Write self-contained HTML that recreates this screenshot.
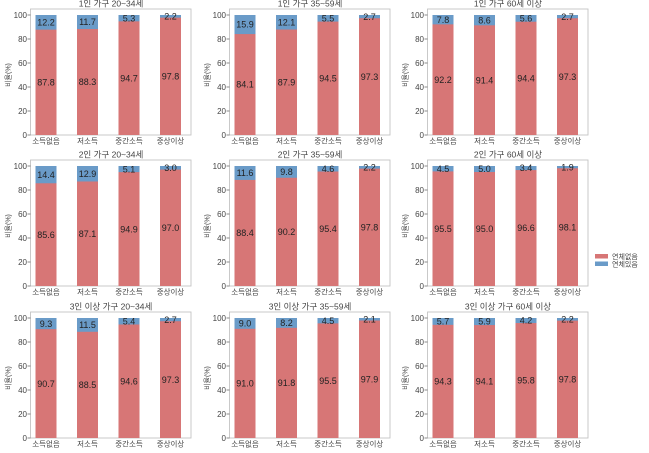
<!DOCTYPE html>
<html><head><meta charset="utf-8"><style>
html,body{margin:0;padding:0;background:#fff;}
svg{display:block;}
text{font-family:"Liberation Sans","Noto Sans CJK KR",sans-serif;fill:#333;}
.v{font-size:9px;text-anchor:middle;fill:#222;}
.yt{font-size:8px;text-anchor:end;fill:#444;}
.xt{font-size:7.5px;text-anchor:middle;fill:#444;}
.ti{font-size:8.5px;text-anchor:middle;fill:#444;}
.yl{font-size:7px;text-anchor:middle;fill:#444;}
.lg{font-size:7px;fill:#444;}
.r{fill:#d77676;}
.b{fill:#6a9bc8;}
.fr{fill:none;stroke:#c4c4c4;stroke-width:0.9;}
.tk{stroke:#666;stroke-width:0.7;}
</style></head><body>
<svg width="649" height="453" viewBox="0 0 649 453" xmlns="http://www.w3.org/2000/svg">
<defs>
<g id="ax">
<rect class="fr" x="3.5" y="-126" width="160.5" height="126"/>
<path class="tk" d="M0.5 0H3.5M0.5 -24H3.5M0.5 -48H3.5M0.5 -72H3.5M0.5 -96H3.5M0.5 -120H3.5"/>
<text class="yt" x="0" y="2.9">0</text>
<text class="yt" x="0" y="-21.1">20</text>
<text class="yt" x="0" y="-45.1">40</text>
<text class="yt" x="0" y="-69.1">60</text>
<text class="yt" x="0" y="-93.1">80</text>
<text class="yt" x="0" y="-117.1">100</text>
<text class="xt" x="19" y="8.5">소득없음</text>
<text class="xt" x="60.5" y="8.5">저소득</text>
<text class="xt" x="102" y="8.5">중간소득</text>
<text class="xt" x="143.5" y="8.5">중상이상</text>
<text class="yl" transform="translate(-16.5,-60) rotate(-90)">비율(%)</text>
<rect class="b" x="8.5" y="-120" width="21" height="120"/>
<rect class="b" x="50" y="-120" width="21" height="120"/>
<rect class="b" x="91.5" y="-120" width="21" height="120"/>
<rect class="b" x="133" y="-120" width="21" height="120"/>
</g>
</defs>

<!-- Row 1 -->
<g transform="translate(27,135)">
<use href="#ax"/>
<rect class="r" x="8.5" y="-105.36" width="21" height="105.36"/>
<rect class="r" x="50" y="-105.96" width="21" height="105.96"/>
<rect class="r" x="91.5" y="-113.64" width="21" height="113.64"/>
<rect class="r" x="133" y="-117.36" width="21" height="117.36"/>
<text class="v" x="19" y="-49.5">87.8</text>
<text class="v" x="60.5" y="-49.8">88.3</text>
<text class="v" x="102" y="-53.6">94.7</text>
<text class="v" x="143.5" y="-55.5">97.8</text>
<text class="v" x="19" y="-109.5">12.2</text>
<text class="v" x="60.5" y="-109.8">11.7</text>
<text class="v" x="102" y="-113.6">5.3</text>
<text class="v" x="143.5" y="-115.5">2.2</text>
<text class="ti" x="84" y="-128.5">1인 가구 20~34세</text>
</g>
<g transform="translate(226,135)">
<use href="#ax"/>
<rect class="r" x="8.5" y="-100.92" width="21" height="100.92"/>
<rect class="r" x="50" y="-105.48" width="21" height="105.48"/>
<rect class="r" x="91.5" y="-113.4" width="21" height="113.4"/>
<rect class="r" x="133" y="-116.76" width="21" height="116.76"/>
<text class="v" x="19" y="-47.3">84.1</text>
<text class="v" x="60.5" y="-49.5">87.9</text>
<text class="v" x="102" y="-53.5">94.5</text>
<text class="v" x="143.5" y="-55.2">97.3</text>
<text class="v" x="19" y="-107.3">15.9</text>
<text class="v" x="60.5" y="-109.5">12.1</text>
<text class="v" x="102" y="-113.5">5.5</text>
<text class="v" x="143.5" y="-115.2">2.7</text>
<text class="ti" x="84" y="-128.5">1인 가구 35~59세</text>
</g>
<g transform="translate(424,135)">
<use href="#ax"/>
<rect class="r" x="8.5" y="-110.64" width="21" height="110.64"/>
<rect class="r" x="50" y="-109.68" width="21" height="109.68"/>
<rect class="r" x="91.5" y="-113.28" width="21" height="113.28"/>
<rect class="r" x="133" y="-116.76" width="21" height="116.76"/>
<text class="v" x="19" y="-52.1">92.2</text>
<text class="v" x="60.5" y="-51.6">91.4</text>
<text class="v" x="102" y="-53.4">94.4</text>
<text class="v" x="143.5" y="-55.2">97.3</text>
<text class="v" x="19" y="-112.1">7.8</text>
<text class="v" x="60.5" y="-111.6">8.6</text>
<text class="v" x="102" y="-113.4">5.6</text>
<text class="v" x="143.5" y="-115.2">2.7</text>
<text class="ti" x="84" y="-128.5">1인 가구 60세 이상</text>
</g>

<!-- Row 2 -->
<g transform="translate(27,286)">
<use href="#ax"/>
<rect class="r" x="8.5" y="-102.72" width="21" height="102.72"/>
<rect class="r" x="50" y="-104.52" width="21" height="104.52"/>
<rect class="r" x="91.5" y="-113.88" width="21" height="113.88"/>
<rect class="r" x="133" y="-116.4" width="21" height="116.4"/>
<text class="v" x="19" y="-48.2">85.6</text>
<text class="v" x="60.5" y="-49.1">87.1</text>
<text class="v" x="102" y="-53.7">94.9</text>
<text class="v" x="143.5" y="-55">97.0</text>
<text class="v" x="19" y="-108.2">14.4</text>
<text class="v" x="60.5" y="-109.1">12.9</text>
<text class="v" x="102" y="-113.7">5.1</text>
<text class="v" x="143.5" y="-115">3.0</text>
<text class="ti" x="84" y="-128.5">2인 가구 20~34세</text>
</g>
<g transform="translate(226,286)">
<use href="#ax"/>
<rect class="r" x="8.5" y="-106.08" width="21" height="106.08"/>
<rect class="r" x="50" y="-108.24" width="21" height="108.24"/>
<rect class="r" x="91.5" y="-114.48" width="21" height="114.48"/>
<rect class="r" x="133" y="-117.36" width="21" height="117.36"/>
<text class="v" x="19" y="-49.8">88.4</text>
<text class="v" x="60.5" y="-50.9">90.2</text>
<text class="v" x="102" y="-54">95.4</text>
<text class="v" x="143.5" y="-55.5">97.8</text>
<text class="v" x="19" y="-109.8">11.6</text>
<text class="v" x="60.5" y="-110.9">9.8</text>
<text class="v" x="102" y="-114">4.6</text>
<text class="v" x="143.5" y="-115.5">2.2</text>
<text class="ti" x="84" y="-128.5">2인 가구 35~59세</text>
</g>
<g transform="translate(424,286)">
<use href="#ax"/>
<rect class="r" x="8.5" y="-114.6" width="21" height="114.6"/>
<rect class="r" x="50" y="-114" width="21" height="114"/>
<rect class="r" x="91.5" y="-115.92" width="21" height="115.92"/>
<rect class="r" x="133" y="-117.72" width="21" height="117.72"/>
<text class="v" x="19" y="-54.1">95.5</text>
<text class="v" x="60.5" y="-53.8">95.0</text>
<text class="v" x="102" y="-54.8">96.6</text>
<text class="v" x="143.5" y="-55.7">98.1</text>
<text class="v" x="19" y="-114.1">4.5</text>
<text class="v" x="60.5" y="-113.8">5.0</text>
<text class="v" x="102" y="-114.8">3.4</text>
<text class="v" x="143.5" y="-115.7">1.9</text>
<text class="ti" x="84" y="-128.5">2인 가구 60세 이상</text>
</g>

<!-- Row 3 -->
<g transform="translate(27,438)">
<use href="#ax"/>
<rect class="r" x="8.5" y="-108.84" width="21" height="108.84"/>
<rect class="r" x="50" y="-106.2" width="21" height="106.2"/>
<rect class="r" x="91.5" y="-113.52" width="21" height="113.52"/>
<rect class="r" x="133" y="-116.76" width="21" height="116.76"/>
<text class="v" x="19" y="-51.2">90.7</text>
<text class="v" x="60.5" y="-49.9">88.5</text>
<text class="v" x="102" y="-53.6">94.6</text>
<text class="v" x="143.5" y="-55.2">97.3</text>
<text class="v" x="19" y="-111.2">9.3</text>
<text class="v" x="60.5" y="-109.9">11.5</text>
<text class="v" x="102" y="-113.6">5.4</text>
<text class="v" x="143.5" y="-115.2">2.7</text>
<text class="ti" x="84" y="-128.5">3인 이상 가구 20~34세</text>
</g>
<g transform="translate(226,438)">
<use href="#ax"/>
<rect class="r" x="8.5" y="-109.2" width="21" height="109.2"/>
<rect class="r" x="50" y="-110.16" width="21" height="110.16"/>
<rect class="r" x="91.5" y="-114.6" width="21" height="114.6"/>
<rect class="r" x="133" y="-117.48" width="21" height="117.48"/>
<text class="v" x="19" y="-51.4">91.0</text>
<text class="v" x="60.5" y="-51.9">91.8</text>
<text class="v" x="102" y="-54.1">95.5</text>
<text class="v" x="143.5" y="-55.5">97.9</text>
<text class="v" x="19" y="-111.4">9.0</text>
<text class="v" x="60.5" y="-111.9">8.2</text>
<text class="v" x="102" y="-114.1">4.5</text>
<text class="v" x="143.5" y="-115.5">2.1</text>
<text class="ti" x="84" y="-128.5">3인 이상 가구 35~59세</text>
</g>
<g transform="translate(424,438)">
<use href="#ax"/>
<rect class="r" x="8.5" y="-113.16" width="21" height="113.16"/>
<rect class="r" x="50" y="-112.92" width="21" height="112.92"/>
<rect class="r" x="91.5" y="-114.96" width="21" height="114.96"/>
<rect class="r" x="133" y="-117.36" width="21" height="117.36"/>
<text class="v" x="19" y="-53.4">94.3</text>
<text class="v" x="60.5" y="-53.3">94.1</text>
<text class="v" x="102" y="-54.3">95.8</text>
<text class="v" x="143.5" y="-55.5">97.8</text>
<text class="v" x="19" y="-113.4">5.7</text>
<text class="v" x="60.5" y="-113.3">5.9</text>
<text class="v" x="102" y="-114.3">4.2</text>
<text class="v" x="143.5" y="-115.5">2.2</text>
<text class="ti" x="84" y="-128.5">3인 이상 가구 60세 이상</text>
</g>

<!-- Legend -->
<rect class="r" x="595" y="254" width="13" height="4.5"/>
<text class="lg" x="612" y="259">연체없음</text>
<rect class="b" x="595" y="261.5" width="13" height="4.5"/>
<text class="lg" x="612" y="266.5">연체있음</text>
</svg>
</body></html>
